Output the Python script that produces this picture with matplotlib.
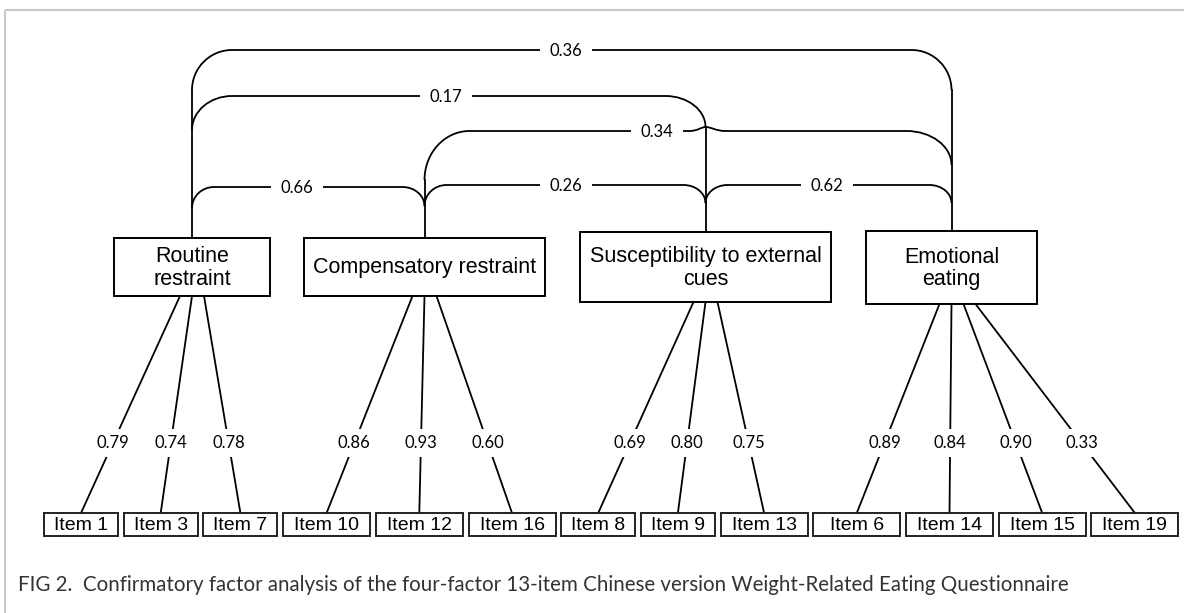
"""Diagrama CFA de cuatro factores (WREQ, versión china) dibujado con matplotlib."""
import matplotlib

matplotlib.use('Agg')
import matplotlib.pyplot as plt
from matplotlib.path import Path
from matplotlib.patches import PathPatch, Rectangle

# --- datos ---
factors = ["Routine\nrestraint", "Compensatory restraint",
           "Susceptibility to external\ncues", "Emotional\neating"]
items = [["Item 1", "Item 3", "Item 7"],
         ["Item 10", "Item 12", "Item 16"],
         ["Item 8", "Item 9", "Item 13"],
         ["Item 6", "Item 14", "Item 15", "Item 19"]]
loadings = [[0.79, 0.74, 0.78],
            [0.86, 0.93, 0.60],
            [0.69, 0.80, 0.75],
            [0.89, 0.84, 0.90, 0.33]]
corr_pairs = [(0, 3), (0, 2), (1, 3), (0, 1), (1, 2), (2, 3)]
corr_values = [0.36, 0.17, 0.34, 0.66, 0.26, 0.62]
caption = ("FIG 2.  Confirmatory factor analysis of the four-factor 13-item "
           "Chinese version Weight-Related Eating Questionnaire")

# --- layout (pixeles, y hacia abajo) ---
W, H = 1184, 613
factor_boxes = [(114, 270, 238, 296), (304, 545, 238, 296),
                (580, 831, 232, 302), (866, 1037, 231, 304)]
item_w = [74, 74, 74, 87, 87, 87, 74, 74, 87, 87, 87, 87, 87]
item_x0, item_gap, item_y0, item_y1 = 44, 5.7, 513, 536
load_label_y = 443
# (nivel, union izq, union der, radio, x etiqueta)
corr_layout = [(50, 90, 90, 40, 566), (96, 130, 127, 40, 446),
               (131, 180, 165, 45, 657), (187, 208, 206, 22, 297),
               (185, 206, 203, 22, 566), (185, 203, 203, 22, 827)]

NUM_FONT = "Lato"
BOX_FONT = "Liberation Sans"
LW = 1.3

fig = plt.figure(figsize=(W / 100, H / 100), dpi=100)
ax = fig.add_axes([0, 0, 1, 1])
ax.set_xlim(0, W)
ax.set_ylim(H, 0)
ax.axis('off')

# marco gris exterior
ax.add_patch(Rectangle((5, 10), 1300, 800, fill=False, ec="#c8c8c8", lw=1.5))

fx = [(b[0] + b[1]) / 2 for b in factor_boxes]

# cajas de factores
for name, (x0, x1, y0, y1) in zip(factors, factor_boxes):
    ax.add_patch(Rectangle((x0, y0), x1 - x0, y1 - y0, fill=False, ec="black", lw=1.4, zorder=3))
    ax.text((x0 + x1) / 2, (y0 + y1) / 2 + 1, name, ha='center', va='center',
            family=BOX_FONT, fontsize=15.5, linespacing=1.1, zorder=4)

# cajas de items
item_centers = []
x = item_x0
k = 0
for group in items:
    centers = []
    for label in group:
        w = item_w[k]
        ax.add_patch(Rectangle((x, item_y0), w, item_y1 - item_y0, fill=False,
                               ec="#222222", lw=1.4, zorder=3))
        ax.text(x + w / 2, (item_y0 + item_y1) / 2 + 1, label, ha='center', va='center',
                family=BOX_FONT, fontsize=14, zorder=4)
        centers.append(x + w / 2)
        x += w + item_gap
        k += 1
    item_centers.append(centers)

# cargas factoriales
for f, (group, vals) in enumerate(zip(item_centers, loadings)):
    yb = factor_boxes[f][3]
    for j, (ix, v) in enumerate(zip(group, vals)):
        ax0 = fx[f] + (j - 1) * 12
        ax.plot([ax0, ix], [yb, item_y0], color="black", lw=LW, zorder=1)
        t = (load_label_y - yb) / (item_y0 - yb)
        lx = ax0 + t * (ix - ax0)
        ax.text(lx, load_label_y, f"{v:.2f}", ha='center', va='center',
                family=NUM_FONT, fontsize=12,
                bbox=dict(boxstyle='square,pad=0.35', fc='white', ec='none'), zorder=2)

# cima de cada linea vertical de factor
v_top = [factor_boxes[f][2] for f in range(4)]
for (i, j), (yl, jl, jr, r, lx) in zip(corr_pairs, corr_layout):
    v_top[i] = min(v_top[i], jl)
    v_top[j] = min(v_top[j], jr)
for f in range(4):
    ax.plot([fx[f], fx[f]], [factor_boxes[f][2], v_top[f]], color="black", lw=LW, zorder=1)

# correlaciones entre factores
kk = 0.5523
for (i, j), val, (yl, jl, jr, r, lx) in zip(corr_pairs, corr_values, corr_layout):
    xi, xj = fx[i], fx[j]
    verts = [(xi, jl), (xi, jl - kk * (jl - yl)), (xi + r - kk * r, yl), (xi + r, yl)]
    codes = [Path.MOVETO, Path.CURVE4, Path.CURVE4, Path.CURVE4]
    # salto sobre lineas verticales que cruza
    for m in range(i + 1, j):
        if v_top[m] < yl:
            xc = fx[m]
            verts += [(xc - 16, yl), (xc - 8, yl), (xc - 4, yl - 4), (xc, yl - 4),
                      (xc + 6, yl - 4), (xc + 10, yl), (xc + 20, yl)]
            codes += [Path.LINETO, Path.CURVE4, Path.CURVE4, Path.CURVE4,
                      Path.CURVE4, Path.CURVE4, Path.CURVE4]
    verts += [(xj - r, yl), (xj - r + kk * r, yl), (xj, jr - kk * (jr - yl)), (xj, jr)]
    codes += [Path.LINETO, Path.CURVE4, Path.CURVE4, Path.CURVE4]
    ax.add_patch(PathPatch(Path(verts, codes), fill=False, ec="black", lw=LW, zorder=1))
    ax.text(lx, yl + 1, f"{val:.2f}", ha='center', va='center', family=NUM_FONT,
            fontsize=12, bbox=dict(boxstyle='square,pad=0.6', fc='white', ec='none'), zorder=2)

# pie de figura
ax.text(18, 585, caption, ha='left', va='center', family="Lato", fontsize=14.8,
        color="#333333")

fig.savefig("out.png", dpi=100)
